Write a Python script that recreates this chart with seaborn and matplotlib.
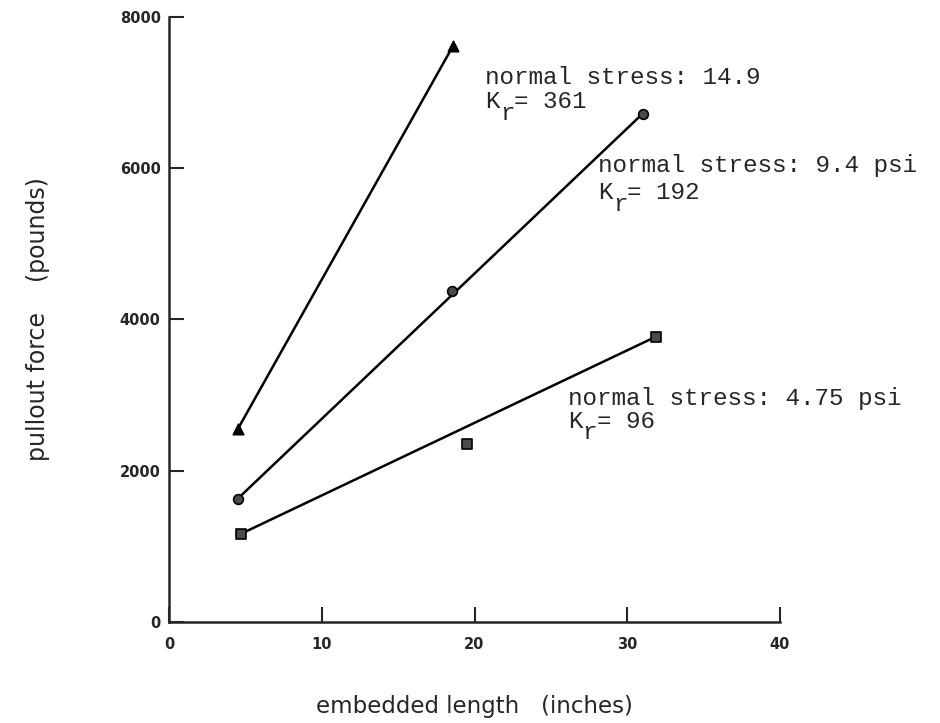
import matplotlib
matplotlib.use("Agg")
import matplotlib.pyplot as plt
import seaborn as sns
import pandas as pd

# Pullout tests: embedded length (in) vs pullout force (lb) at three normal stresses
length_high = [4.5, 18.6]
force_high = [2550, 7620]

length_mid = [4.5, 18.5, 31.0]
force_mid = [1630, 4380, 6720]

length_low = [4.7, 19.5, 31.9]
force_low = [1165, 2360, 3775]

x_ticks = [0, 10, 20, 30, 40]
y_ticks = [0, 2000, 4000, 6000, 8000]

labels_high = ["normal stress: 14.9", "361"]
labels_mid = ["normal stress: 9.4 psi", "192"]
labels_low = ["normal stress: 4.75 psi", "96"]

sns.set_style("ticks")
plt.rcParams["font.family"] = ["DejaVu Sans"]

fig = plt.figure(figsize=(9.4, 7.23), dpi=100)
ax = fig.add_axes([0.1798, 0.1397, 0.650, 0.8368])

series = [
    (length_high, force_high, "^", "black", 7.5),
    (length_mid, force_mid, "o", "#4a4a4a", 7),
    (length_low, force_low, "s", "#4a4a4a", 6.5),
]
for xs, ys, mk, face, ms in series:
    df = pd.DataFrame({"length": xs, "force": ys})
    ends = df.iloc[[0, -1]]
    sns.lineplot(data=ends, x="length", y="force", ax=ax, color="black",
                 lw=1.8, estimator=None, sort=False)
    sns.scatterplot(data=df, x="length", y="force", ax=ax, marker=mk,
                    s=ms ** 2, color=face, edgecolor="black", linewidth=1.2,
                    zorder=4, clip_on=False)

ax.set_xlim(0, 40)
ax.set_ylim(0, 8000)
ax.set_xticks(x_ticks)
ax.set_yticks(y_ticks)
ax.set_xticklabels([str(v) for v in x_ticks], fontsize=10.5, fontweight="bold")
ax.set_yticklabels([str(v) for v in y_ticks], fontsize=10.5, fontweight="bold")
ax.tick_params(axis="x", direction="in", length=11, width=1.5, pad=11)
ax.tick_params(axis="y", direction="in", length=11, width=1.5, pad=6)
for side in ("left", "bottom"):
    ax.spines[side].set_linewidth(1.8)
for side in ("top", "right"):
    ax.spines[side].set_visible(False)

ax.set_xlabel("embedded length   (inches)", fontsize=16.5, labelpad=31)
ax.set_ylabel("pullout force    (pounds)", fontsize=17, labelpad=50)

mono = "Liberation Mono"
fs = 17.5
pitch = 0.6 * fs


# second line reads "K = 361" with the subscript r set in column 1
def note(x, y, lines, dy):
    ax.text(x, y, lines[0], family=mono, fontsize=fs, va="baseline", ha="left")
    ax.text(x, y - dy, "K", family=mono, fontsize=fs, va="baseline", ha="left")
    ax.annotate("= " + lines[1], xy=(x, y - dy), xytext=(2 * pitch, 0),
                textcoords="offset points", family=mono, fontsize=fs,
                va="baseline", ha="left")
    ax.annotate("r", xy=(x, y - dy), xytext=(pitch, -8.5),
                textcoords="offset points", family=mono, fontsize=fs,
                va="baseline", ha="left")


note(20.7, 7110, labels_high, 310)
note(28.1, 5945, labels_mid, 355)
note(26.1, 2875, labels_low, 305)

fig.savefig("out.png", dpi=100, facecolor="white")
